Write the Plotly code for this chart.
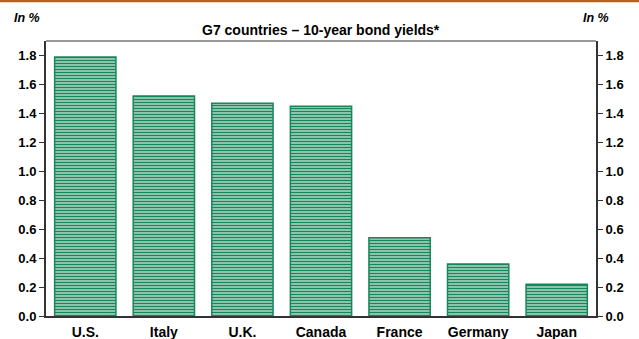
import plotly.graph_objects as go

countries = ["U.S.", "Italy", "U.K.", "Canada", "France", "Germany", "Japan"]
yields = [1.79, 1.52, 1.47, 1.45, 0.54, 0.36, 0.22]
tick_vals = [0.0, 0.2, 0.4, 0.6, 0.8, 1.0, 1.2, 1.4, 1.6, 1.8]
tick_text = ["0.0", "0.2", "0.4", "0.6", "0.8", "1.0", "1.2", "1.4", "1.6", "1.8"]

green = "#17875A"
FONT = "Liberation Sans, Arial"

fig = go.Figure()
fig.add_trace(go.Bar(
    x=countries, y=yields, width=0.78,
    marker=dict(color="white",
                line=dict(color=green, width=1.5),
                pattern=dict(shape="-", fgcolor=green, bgcolor="white", fgopacity=1,
                             size=3, solidity=0.67)),
))
fig.add_trace(go.Scatter(x=countries, y=yields, yaxis="y2", mode="markers",
                         marker=dict(opacity=0), hoverinfo="skip", showlegend=False))

axis_common = dict(range=[0, 1.9], tickvals=tick_vals,
                   ticktext=["<b>" + t + "</b>" for t in tick_text],
                   ticks="outside", ticklen=5, tickcolor="#333333",
                   showline=True, linecolor="#333333", linewidth=2,
                   showgrid=False, zeroline=False, automargin=False,
                   tickfont=dict(family=FONT, size=13, color="#000"))

fig.update_layout(
    width=639, height=339,
    margin=dict(l=46, r=43, t=41, b=23, autoexpand=False),
    paper_bgcolor="white", plot_bgcolor="white",
    showlegend=False,
    xaxis=dict(showline=True, linecolor="#333333", linewidth=2, ticks="",
               tickprefix="<b>", ticksuffix="</b>", automargin=False,
               ticklabelstandoff=2,
               tickfont=dict(family=FONT, size=14, color="#000")),
    yaxis=dict(side="left", **axis_common),
    yaxis2=dict(side="right", overlaying="y", **axis_common),
    shapes=[
        dict(type="line", xref="paper", yref="paper", x0=0, x1=1, y0=1, y1=1,
             line=dict(color="#777777", width=1.5)),
        dict(type="line", xref="paper", yref="paper", x0=-46/550, x1=1 + 43/550,
             y0=1 + 40/275, y1=1 + 40/275, line=dict(color="#B8601E", width=2.5)),
    ],
    annotations=[
        dict(text="<b>G7 countries – 10-year bond yields*</b>", xref="paper", yref="paper",
             x=0.5, y=1.0, yanchor="bottom", yshift=1, showarrow=False,
             font=dict(family=FONT, size=14, color="#000")),
        dict(text="<b><i>In %</i></b>", xref="paper", yref="paper", x=-34/550, y=1 + 23/275,
             xanchor="left", yanchor="middle", showarrow=False,
             font=dict(family=FONT, size=12.5, color="#000")),
        dict(text="<b><i>In %</i></b>", xref="paper", yref="paper", x=1 + 15/550, y=1 + 23/275,
             xanchor="right", yanchor="middle", showarrow=False,
             font=dict(family=FONT, size=12.5, color="#000")),
    ],
)

fig.write_html("out.html", config={"displayModeBar": False},
               post_script="document.body.style.margin='0';")
